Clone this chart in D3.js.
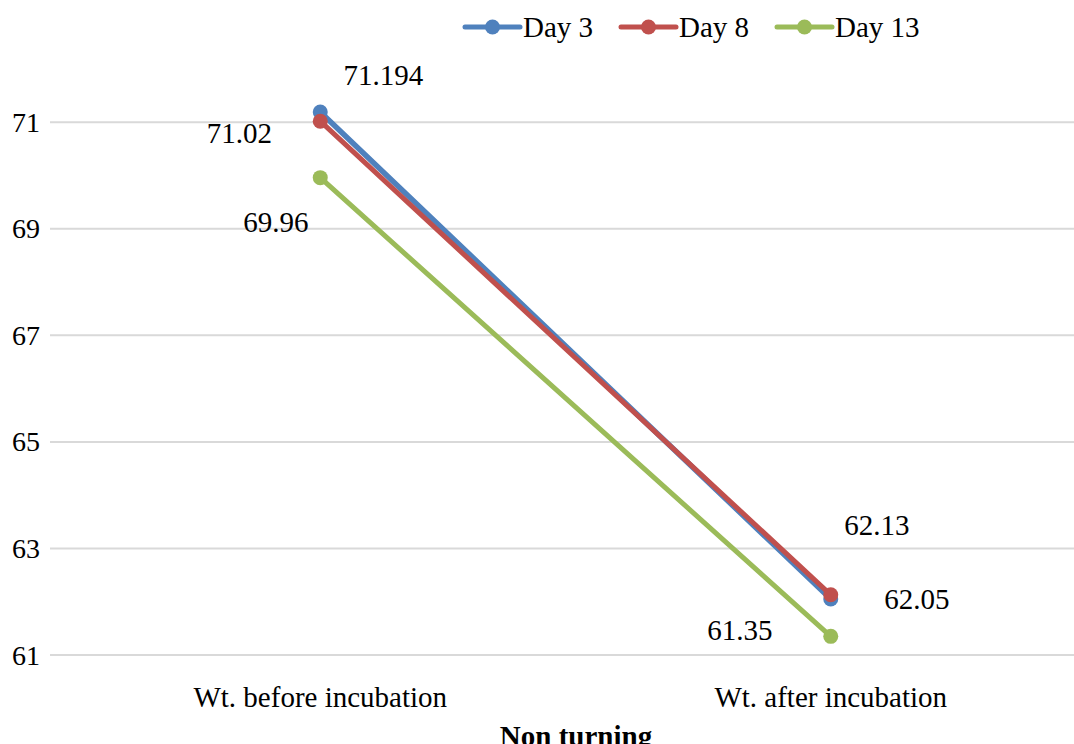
<!DOCTYPE html>
<html><head><meta charset="utf-8">
<script src="https://cdn.jsdelivr.net/npm/d3@7"></script>
<style>body{margin:0;background:#fff;} svg{display:block;}</style>
</head><body><svg id="c" width="1074" height="744"></svg>
<script>
const categories = ["Wt. before incubation", "Wt. after incubation"];
const seriesNames = ["Day 3", "Day 8", "Day 13"];
const day3 = [71.194, 62.05];
const day8 = [71.02, 62.13];
const day13 = [69.96, 61.35];
const yTicks = [61, 63, 65, 67, 69, 71];
const colors = ["#4f81bd", "#c0504d", "#9bbb59"];
const xTitle = "Non turning";
const FONT = "Liberation Serif";
const FS = 29;

const svg = d3.select("#c");
const x = d3.scaleBand().domain(categories).range([65, 1086]);
const y = d3.scaleLinear().domain([61, 72]).range([655, 69]);
const cx = c => x(c) + x.bandwidth() / 2;

svg.append("g").selectAll("line").data(yTicks).join("line")
  .attr("x1", 50).attr("x2", 1074)
  .attr("y1", d => y(d)).attr("y2", d => y(d))
  .attr("stroke", "#d9d9d9").attr("stroke-width", 2);

svg.append("g").selectAll("text").data(yTicks).join("text")
  .attr("x", 40).attr("y", d => y(d) + 9.5)
  .attr("text-anchor", "end").attr("font-size", 28).attr("font-family", FONT).attr("fill", "#000")
  .text(d => d);

svg.append("g").selectAll("text").data(categories).join("text")
  .attr("x", d => cx(d)).attr("y", 707)
  .attr("text-anchor", "middle").attr("font-size", FS).attr("font-family", FONT).attr("fill", "#000")
  .text(d => d);

svg.append("text").attr("x", 576).attr("y", 746)
  .attr("text-anchor", "middle").attr("font-size", FS).attr("font-weight", "bold").attr("font-family", FONT)
  .text(xTitle);

const series = [day3, day8, day13];
const line = d3.line().x((d, i) => cx(categories[i])).y(d => y(d));
series.forEach((vals, si) => {
  svg.append("path").attr("d", line(vals)).attr("fill", "none")
    .attr("stroke", colors[si]).attr("stroke-width", si === 0 ? 5.5 : 5).attr("stroke-linecap", "round");
  svg.append("g").selectAll("circle").data(vals).join("circle")
    .attr("cx", (d, i) => cx(categories[i])).attr("cy", d => y(d)).attr("r", 7.5)
    .attr("fill", colors[si]);
});

const labelOffsets = [
  [[63, -27], [86, 10]],
  [[-81, 22], [46, -60]],
  [[-44.5, 54.5], [-91, 4]]
];
series.forEach((vals, si) => {
  svg.append("g").selectAll("text").data(vals).join("text")
    .attr("x", (d, i) => cx(categories[i]) + labelOffsets[si][i][0])
    .attr("y", (d, i) => y(d) + labelOffsets[si][i][1])
    .attr("text-anchor", "middle")
    .attr("font-size", FS).attr("font-family", FONT).attr("fill", "#000")
    .text(d => d);
});

const legendX = [465, 621, 777];
const lg = svg.append("g");
seriesNames.forEach((n, i) => {
  const g = lg.append("g").attr("transform", `translate(${legendX[i]},27)`);
  g.append("line").attr("x1", 0).attr("x2", 55).attr("y1", 0).attr("y2", 0)
    .attr("stroke", colors[i]).attr("stroke-width", 5).attr("stroke-linecap", "round");
  g.append("circle").attr("cx", 27.5).attr("cy", 0).attr("r", 7.5).attr("fill", colors[i]);
  g.append("text").attr("x", 58).attr("y", 9.5).attr("font-size", FS).attr("font-family", FONT).text(n);
});
</script></body></html>
